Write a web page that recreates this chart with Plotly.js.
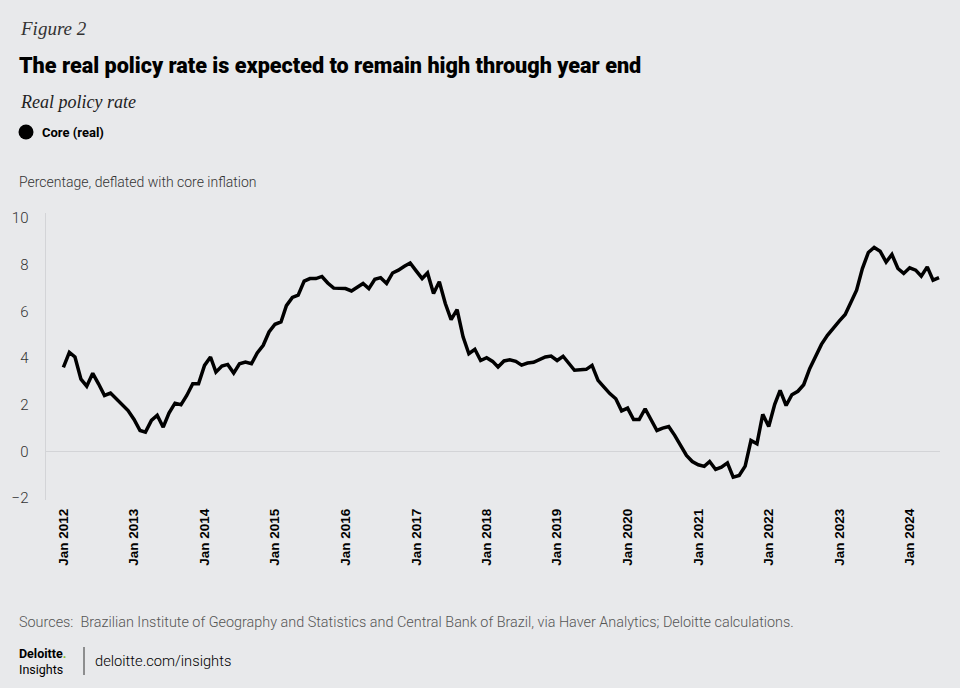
<!DOCTYPE html>
<html>
<head>
<meta charset="utf-8">
<script src="https://cdn.plot.ly/plotly-3.0.1.min.js"></script>
<style>
  html, body { margin: 0; padding: 0; background: #e8e9eb; }
  #chart { width: 960px; height: 688px; }
</style>
</head>
<body>
<div id="chart"></div>
<script>
// ---- Data (monthly, Jan 2012 – Jun 2024) ----
const startYear = 2012;
const startMonth = 1;
const coreReal = [
  // 2012
  3.6, 4.25, 4.05, 3.1, 2.8, 3.35, 2.9, 2.4, 2.5, 2.26, 1.97, 1.75,
  // 2013
  1.37, 0.9, 0.83, 1.33, 1.55, 1.04, 1.65, 2.07, 2.0, 2.4, 2.9, 2.9,
  // 2014
  3.69, 4.05, 3.4, 3.66, 3.73, 3.36, 3.76, 3.83, 3.76, 4.22, 4.55, 5.12,
  // 2015
  5.45, 5.55, 6.25, 6.6, 6.7, 7.3, 7.41, 7.41, 7.5, 7.22, 7.0, 6.98,
  // 2016
  6.98, 6.88, 7.05, 7.2, 6.98, 7.38, 7.45, 7.2, 7.65, 7.77, 7.94, 8.08,
  // 2017
  7.74, 7.41, 7.65, 6.77, 7.27, 6.34, 5.65, 6.08, 4.91, 4.19, 4.38, 3.9,
  // 2018
  4.02, 3.86, 3.62, 3.88, 3.93, 3.86, 3.7, 3.79, 3.82, 3.93, 4.05, 4.09,
  // 2019
  3.9, 4.08, 3.81, 3.48, 3.5, 3.52, 3.69, 3.05, 2.76, 2.48, 2.26, 1.74,
  // 2020
  1.86, 1.37, 1.37, 1.83, 1.37, 0.9, 1.0, 1.07, 0.69, 0.26, -0.17, -0.43,
  // 2021
  -0.57, -0.64, -0.43, -0.77, -0.67, -0.49, -1.1, -1.03, -0.63, 0.47, 0.33, 1.59,
  // 2022
  1.07, 2.02, 2.62, 1.97, 2.43, 2.58, 2.86, 3.55, 4.12, 4.59, 4.98, 5.31,
  // 2023
  5.59, 5.87, 6.34, 6.91, 7.84, 8.53, 8.74, 8.58, 8.12, 8.44, 7.84, 7.63,
  // 2024
  7.87, 7.77, 7.51, 7.91, 7.34, 7.45
];
const seriesName = "Core (real)";
const yTickVals = [-2, 0, 2, 4, 6, 8, 10];
const yTickText = ["\u22122", "0", "2", "4", "6", "8", "10"];

const figureLabel = "Figure 2";
const titleText = "The real policy rate is expected to remain high through year end";
const subtitleText = "Real policy rate";
const unitText = "Percentage, deflated with core inflation";
const sourceText = "Sources:  Brazilian Institute of Geography and Statistics and Central Bank of Brazil, via Haver Analytics; Deloitte calculations.";

// build dates
const dates = coreReal.map((v, i) => {
  const m0 = (startMonth - 1) + i;
  const y = startYear + Math.floor(m0 / 12);
  const m = (m0 % 12) + 1;
  return y + "-" + String(m).padStart(2, "0") + "-01";
});

// ---- Layout helpers (pixel -> paper) ----
const W = 960, H = 688;
const M = { l: 46, r: 20, t: 213, b: 188 };
const PW = W - M.l - M.r, PH = H - M.t - M.b;
const px = x => (x - M.l) / PW;
const py = y => (H - M.b - y) / PH;

const sans = "Roboto, Liberation Sans, sans-serif";
const serif = "Liberation Serif, DejaVu Serif, serif";

const trace = {
  x: dates, y: coreReal, type: "scatter", mode: "lines", name: seriesName,
  line: { color: "#000000", width: 3.5 }, hoverinfo: "x+y", showlegend: false
};

const layout = {
  width: W, height: H,
  margin: M,
  paper_bgcolor: "#e8e9eb",
  plot_bgcolor: "#e8e9eb",
  showlegend: false,
  xaxis: {
    type: "date",
    range: ["2011-10-03", "2024-06-06"],
    tick0: "2012-01-01", dtick: "M12", tickformat: "%b %Y",
    tickangle: -90,
    showgrid: false, zeroline: false, showline: false,
    ticks: "", ticklabelstandoff: 5,
    tickfont: { family: "Liberation Sans, Arial, sans-serif", size: 13.5, color: "#000", weight: "bold" }
  },
  yaxis: {
    range: [-2.08, 10.22],
    tickvals: yTickVals, ticktext: yTickText,
    showgrid: false,
    zeroline: true, zerolinecolor: "#d3d4d7", zerolinewidth: 1.5,
    showline: true, linecolor: "#d3d4d7", linewidth: 1.5,
    ticks: "", ticklabelstandoff: 13,
    tickfont: { family: sans, size: 15, color: "#333", weight: 300 }
  },
  shapes: [
    { type: "circle", xref: "paper", yref: "paper", xsizemode: "pixel", ysizemode: "pixel",
      xanchor: px(26), yanchor: py(132), x0: -7.5, x1: 7.5, y0: -7.5, y1: 7.5,
      fillcolor: "#000", line: { width: 0 } },
    { type: "line", xref: "paper", yref: "paper", x0: px(84), x1: px(84), y0: py(647), y1: py(675),
      line: { color: "#333", width: 1 } }
  ],
  annotations: [
    { text: figureLabel, xref: "paper", yref: "paper", x: px(18), y: py(28), xanchor: "left", yanchor: "middle",
      showarrow: false, font: { family: serif, size: 19, color: "#333", style: "italic" } },
    { text: titleText, xref: "paper", yref: "paper", x: px(17), y: py(65), xanchor: "left", yanchor: "middle",
      showarrow: false, font: { family: sans, size: 21.6, color: "#000", weight: 900 } },
    { text: subtitleText, xref: "paper", yref: "paper", x: px(18), y: py(102), xanchor: "left", yanchor: "middle",
      showarrow: false, font: { family: serif, size: 18, color: "#222", style: "italic" } },
    { text: "<b>" + seriesName + "</b>", xref: "paper", yref: "paper", x: px(40), y: py(132), xanchor: "left", yanchor: "middle",
      showarrow: false, font: { family: sans, size: 13, color: "#000" } },
    { text: unitText, xref: "paper", yref: "paper", x: px(17), y: py(182), xanchor: "left", yanchor: "middle",
      showarrow: false, font: { family: sans, size: 14, color: "#333", weight: 300 } },
    { text: sourceText, xref: "paper", yref: "paper", x: px(17), y: py(622), xanchor: "left", yanchor: "middle",
      showarrow: false, font: { family: sans, size: 14.4, color: "#555", weight: 300 } },
    { text: "<b>Deloitte</b><span style='color:#86bc25'><b>.</b></span><br>Insights", xref: "paper", yref: "paper",
      x: px(17), y: py(661), xanchor: "left", yanchor: "middle", align: "left",
      showarrow: false, font: { family: sans, size: 12.5, color: "#000" } },
    { text: "deloitte.com/insights", xref: "paper", yref: "paper", x: px(93), y: py(661), xanchor: "left", yanchor: "middle",
      showarrow: false, font: { family: sans, size: 14.7, color: "#000", weight: 300 } }
  ]
};

Plotly.newPlot("chart", [trace], layout, { displayModeBar: false, staticPlot: true });
</script>
</body>
</html>
